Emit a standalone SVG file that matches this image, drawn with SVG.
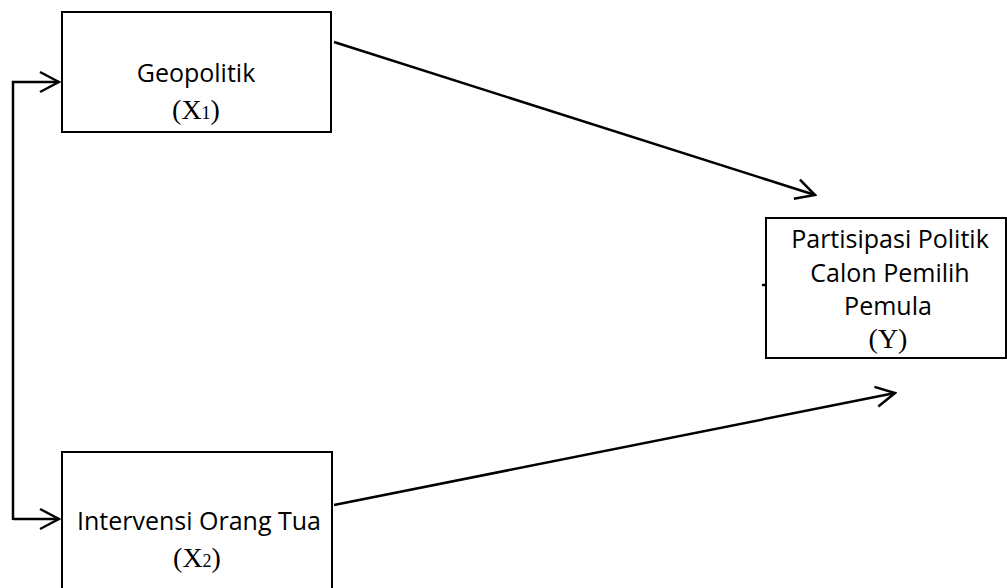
<svg xmlns="http://www.w3.org/2000/svg" width="1007" height="588" viewBox="0 0 1007 588">
<style>
.box{fill:#fff;stroke:#000;stroke-width:2}
.t{font-family:"Open Sans","Noto Sans",sans-serif;font-size:25px;fill:#000;text-anchor:middle}
.v{font-family:"Liberation Serif",serif;font-size:28px;fill:#000;text-anchor:middle}
.s{font-size:18px}
.c{fill:none;stroke:#000;stroke-width:2.5}
</style>
<defs>
<marker id="ah" viewBox="0 0 24 24" refX="22" refY="12" markerWidth="24" markerHeight="24" markerUnits="userSpaceOnUse" orient="auto">
<path d="M3,2 L22,12 L3,22" fill="none" stroke="#000" stroke-width="2.5"/>
</marker>
</defs>
<g id="connectors">
<path class="c" d="M13,520 L13,82 L59,82" marker-end="url(#ah)"/>
<path class="c" d="M13,519 L59,519" marker-end="url(#ah)"/>
<path class="c" d="M334,42 L815,195" marker-end="url(#ah)"/>
<path class="c" d="M334,505 L895,393" marker-end="url(#ah)"/>
<path class="c" d="M762,285 L766,285" stroke-width="1.5"/>
</g>
<g id="x1">
<rect class="box" x="62" y="12" width="269" height="120"/>
<text class="t" x="196" y="82">Geopolitik</text>
<text class="v" x="196" y="119">(X<tspan class="s">1</tspan>)</text>
</g>
<g id="x2">
<rect class="box" x="62" y="452" width="270" height="145"/>
<text class="t" x="199" y="530">Intervensi Orang Tua</text>
<text class="v" x="197" y="567">(X<tspan class="s">2</tspan>)</text>
</g>
<g id="y">
<rect class="box" x="766" y="218" width="240" height="140"/>
<text class="t" x="890" y="248">Partisipasi Politik</text>
<text class="t" x="890" y="282">Calon Pemilih</text>
<text class="t" x="888" y="315">Pemula</text>
<text class="v" x="888" y="348">(Y)</text>
</g>
</svg>
